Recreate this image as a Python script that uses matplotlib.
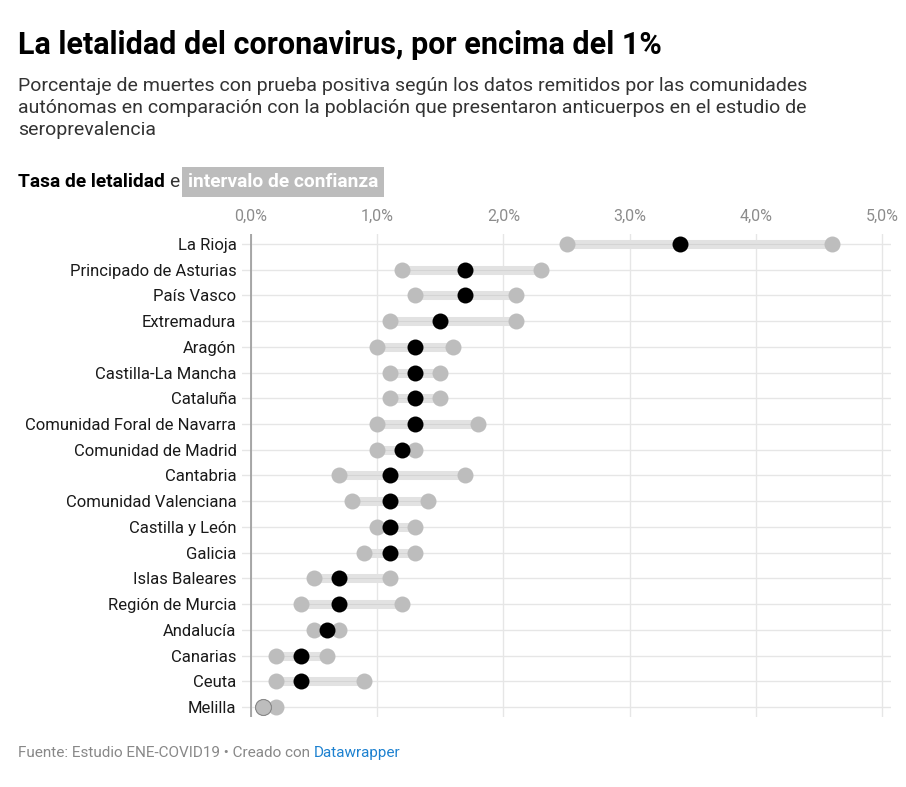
import matplotlib.pyplot as plt
import numpy as np

plt.rcParams['font.family'] = ['Roboto', 'DejaVu Sans']

# data (% fatality rate and confidence interval)
regions = ["La Rioja", "Principado de Asturias", "País Vasco", "Extremadura",
           "Aragón", "Castilla-La Mancha", "Cataluña", "Comunidad Foral de Navarra",
           "Comunidad de Madrid", "Cantabria", "Comunidad Valenciana",
           "Castilla y León", "Galicia", "Islas Baleares", "Región de Murcia",
           "Andalucía", "Canarias", "Ceuta", "Melilla"]
rate = [3.4, 1.7, 1.7, 1.5, 1.3, 1.3, 1.3, 1.3, 1.2, 1.1, 1.1, 1.1, 1.1,
        0.7, 0.7, 0.6, 0.4, 0.4, 0.1]
low = [2.5, 1.2, 1.3, 1.1, 1.0, 1.1, 1.1, 1.0, 1.0, 0.7, 0.8, 1.0, 0.9,
       0.5, 0.4, 0.5, 0.2, 0.2, 0.1]
high = [4.6, 2.3, 2.1, 2.1, 1.6, 1.5, 1.5, 1.8, 1.3, 1.7, 1.4, 1.3, 1.3,
        1.1, 1.2, 0.7, 0.6, 0.9, 0.2]
ticks = [0, 1, 2, 3, 4, 5]

W, H = 906, 787
fig = plt.figure(figsize=(W / 100, H / 100), dpi=100)
fig.patch.set_facecolor('white')

ax = fig.add_axes([242 / W, 1 - 717.3 / H, 649 / W, 483.6 / H])
y = np.arange(len(regions))
grey_dot = '#bdbdbd'

for yy in y:
    ax.axhline(yy, color='#e6e6e6', lw=1, zorder=0)
for t in ticks:
    ax.axvline(t, color='#e6e6e6', lw=1, zorder=0)
ax.axvline(0, color='#9a9a9a', lw=1.2, zorder=1)

ax.hlines(y, low, high, color='#e2e2e2', lw=6.5, zorder=1)
ax.hlines(y, low, high, color='#d4d4d4', lw=0.8, zorder=1)
ax.plot(low, y, 'o', color=grey_dot, ms=11.5, mec='none', zorder=2)
ax.plot(high, y, 'o', color=grey_dot, ms=11.5, mec='none', zorder=2)
ax.plot(rate, y, 'o', color='black', ms=11.5, mec='none', zorder=3)
# where the lower bound equals the rate, the grey dot sits on top
same = [i for i in range(len(rate)) if low[i] == rate[i]]
ax.plot([low[i] for i in same], [y[i] for i in same], 'o', color=grey_dot,
        ms=11.5, mec='#8a8a8a', mew=0.8, zorder=4)

ax.set_xlim(-0.07, 5.07)
ax.set_ylim(18.4, -0.4)
ax.set_xticks(ticks)
ax.set_xticklabels([f"{t:.1f}%".replace('.', ',') for t in ticks])
ax.xaxis.tick_top()
ax.tick_params(axis='x', length=0, pad=7, labelsize=11.5, labelcolor='#8c8c8c')
ax.set_yticks(y)
ax.set_yticklabels(regions)
ax.tick_params(axis='y', length=0, pad=4, labelsize=12, labelcolor='#1a1a1a')
for s in ax.spines.values():
    s.set_visible(False)

# header
fig.text(18 / W, 1 - 45 / H, "La letalidad del coronavirus, por encima del 1%",
         fontsize=22, fontweight='bold', color='black', va='center')
sub = ("Porcentaje de muertes con prueba positiva según los datos remitidos por las comunidades\n"
       "autónomas en comparación con la población que presentaron anticuerpos en el estudio de\n"
       "seroprevalencia")
fig.text(18 / W, 1 - 77 / H, sub, fontsize=14, color='#333333', va='top',
         linespacing=1.3)

renderer = fig.canvas.get_renderer()


def chain(parts, x0, yc, size):
    x = x0
    for txt, gap, kw in parts:
        x += gap
        t = fig.text(x / W, 1 - yc / H, txt, fontsize=size, va='center', **kw)
        bb = t.get_window_extent(renderer)
        x += bb.width
    return x


chain([("Tasa de letalidad", 0, dict(fontweight='bold', color='black')),
       ("e", 4, dict(color='#333333')),
       ("intervalo de confianza", 9,
        dict(fontweight='bold', color='white',
             bbox=dict(boxstyle='square,pad=0.3', fc='#bcbcbc', ec='none')))],
      18, 182, 13.8)

chain([("Fuente: Estudio ENE-COVID19 • Creado con ", 0, dict(color='#888888')),
       ("Datawrapper", 0, dict(color='#1d81d0'))], 18, 753, 11)

fig.savefig('out.png', dpi=100, facecolor='white')
